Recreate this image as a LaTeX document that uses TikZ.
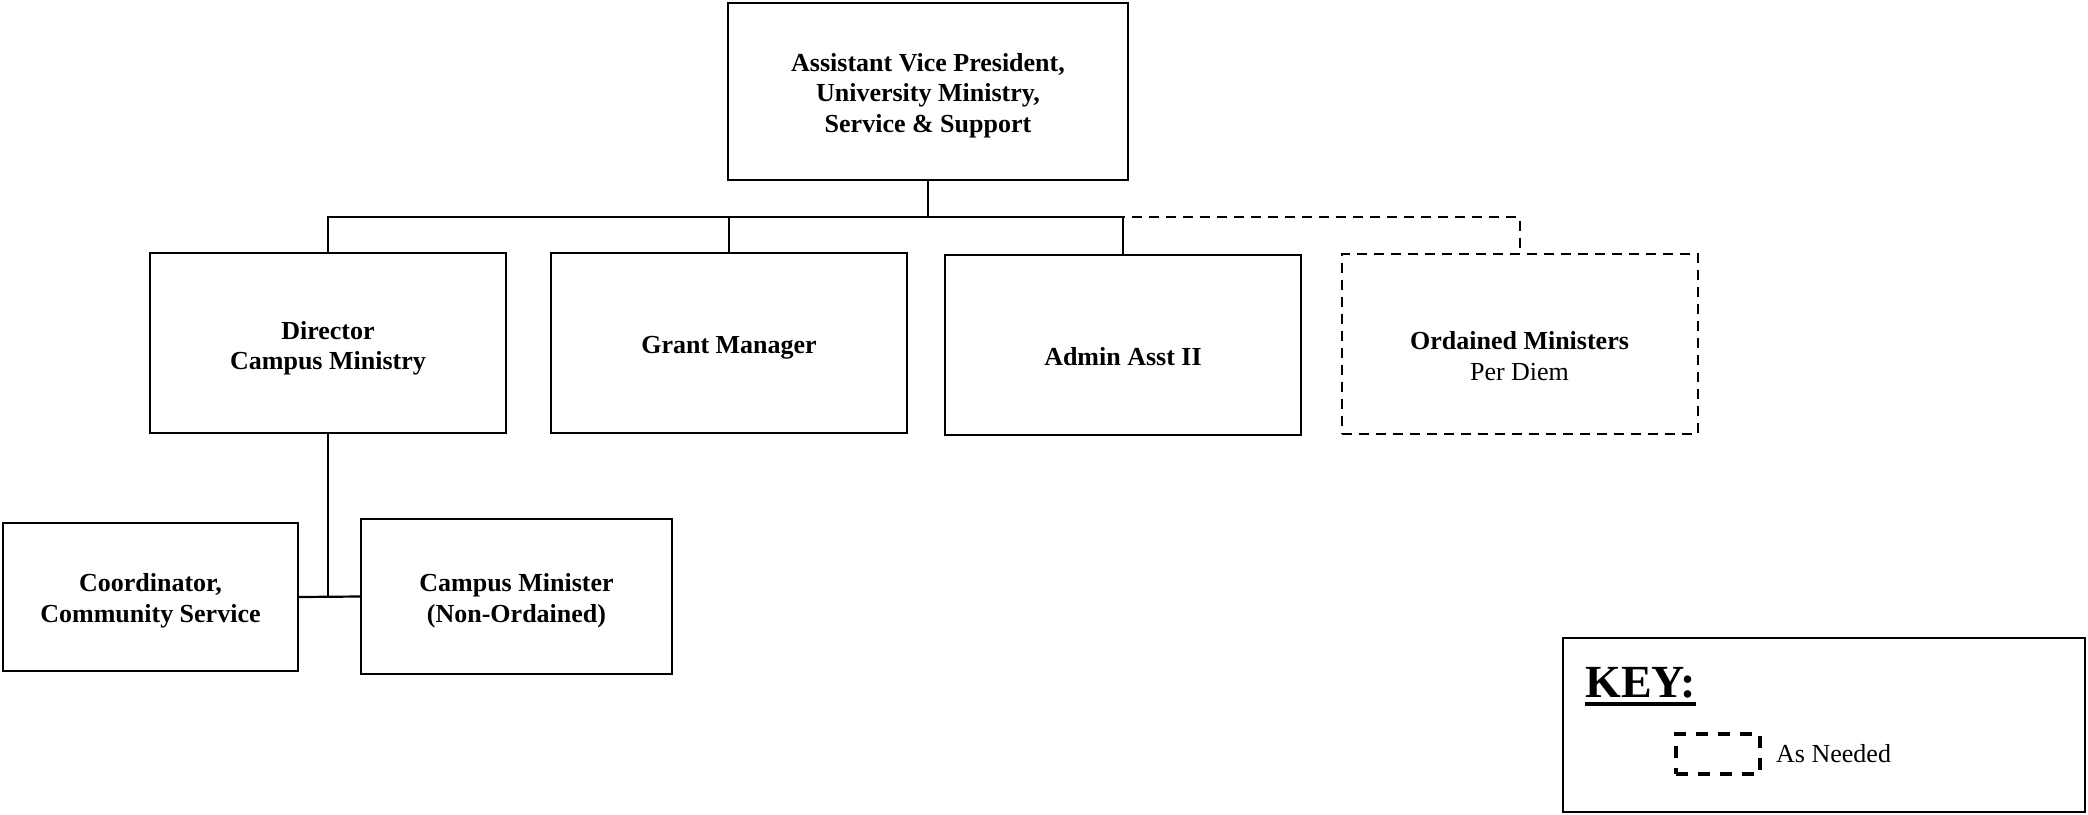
\documentclass[tikz,border=0pt]{standalone}
\usepackage{fontspec}
\setmainfont{Liberation Serif}
\usepackage{tikz}
\usetikzlibrary{positioning, calc}
\newcommand{\topstrut}[1]{\rule{0pt}{#1}}

\begin{document}
\begin{tikzpicture}[
    x=0.5pt, y=-0.5pt,
    font=\fontsize{13}{15.3}\selectfont,
    role/.style={draw, line width=1.1pt, align=center, font=\fontsize{13}{15.3}\selectfont\bfseries, minimum width=178pt, minimum height=90pt, inner sep=0pt},
    asneeded/.style={role, dash pattern=on 5pt off 3.5pt, line width=1pt},
    line/.style={line width=1.1pt}
]
\useasboundingbox (0,0) rectangle (2088,814);

% Top
\node[role, minimum width=200pt, minimum height=88.5pt] (avp) at (928,91.5)
{\topstrut{13pt}Assistant Vice President,\\University Ministry,\\Service \& Support};

% Second row
\node[role] (dir) at (328,343) {\topstrut{14.3pt}Director\\Campus Ministry};
\node[role] (grant) at (729,343) {\topstrut{13pt}Grant Manager};
\node[role] (admin) at (1123,345) {\topstrut{21pt}Admin Asst II};
\node[asneeded] (ordained) at (1519.5,343.5)
{\topstrut{21.5pt}Ordained Ministers\\\mdseries Per Diem};

% Third row
\node[role, minimum width=147.5pt, minimum height=74pt] (coord) at (150.5,597)
{\topstrut{13pt}Coordinator,\\Community Service};
\node[role, minimum width=155.5pt, minimum height=77.5pt] (campus) at (516.5,596.5)
{\topstrut{13pt}Campus Minister\\(Non-Ordained)};

% Key
\node[draw, line width=1.1pt, minimum width=261pt, minimum height=87pt] (key) at (1824,725) {};
\node[anchor=base west, font=\fontsize{23}{25}\selectfont\bfseries, inner sep=0pt] (keytitle) at (1585,697)
{\vtop{\hbox{KEY:}\kern2pt\hrule height 2.2pt}};
\node[draw, line width=1.8pt, dash pattern=on 6pt off 5pt, minimum width=42pt, minimum height=20pt] (swatch) at (1718,754) {};
\node[right=7pt of swatch, inner sep=0pt] (asneededtxt) {As Needed};

% Connections
\coordinate (bus) at (928,217);
\draw[line] (avp.south) -- (bus);
\draw[line] (dir.north) |- (bus) -| (admin.north);
\draw[line] (grant.north) -- (grant.north |- bus);
\draw[line, dash pattern=on 5pt off 3.5pt, line width=1pt] (bus) -| (ordained.north);

\draw[line] (dir.south) -- (dir.south |- coord.east);
\draw[line] (coord.east) -- (campus.west);

\end{tikzpicture}
\end{document}
